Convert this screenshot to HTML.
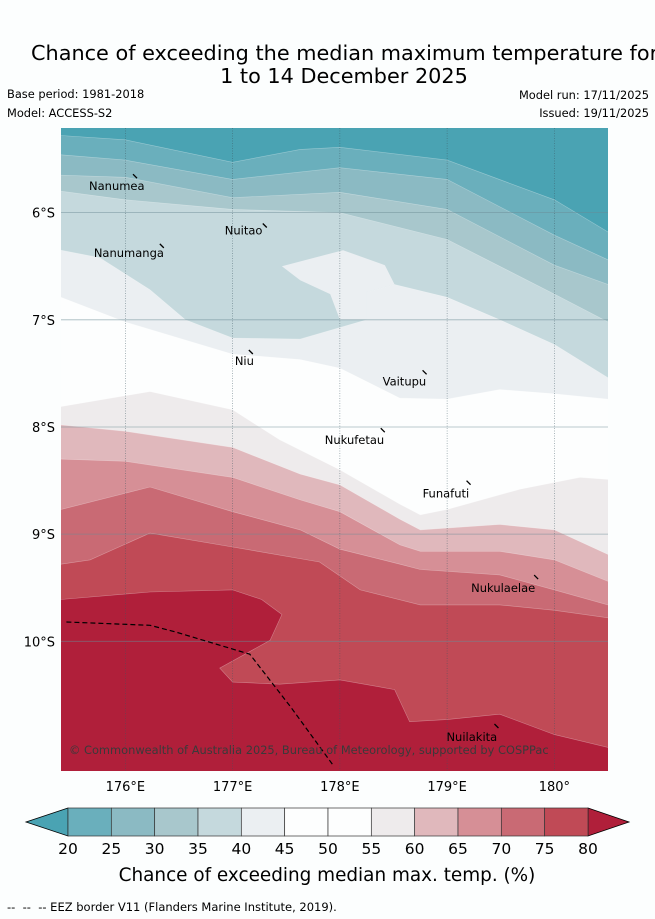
<!DOCTYPE html>
<html><head><meta charset="utf-8">
<style>
html,body{margin:0;padding:0;background:#fcfefe;}
svg{display:block;font-family:"DejaVu Sans","Liberation Sans",sans-serif;}
</style></head>
<body>
<svg id="chart" width="655" height="919" viewBox="0 0 655 919" xmlns="http://www.w3.org/2000/svg">
<rect width="655" height="919" fill="#fcfefe"/>
<text x="31" y="60" font-size="20.8" fill="#000">Chance of exceeding the median maximum temperature for</text>
<text x="344" y="83" font-size="20.8" fill="#000" text-anchor="middle">1 to 14 December 2025</text>
<text x="7" y="98" font-size="11.4">Base period: 1981-2018</text>
<text x="7" y="117" font-size="11.4">Model: ACCESS-S2</text>
<text x="649" y="99" font-size="11.4" text-anchor="end">Model run: 17/11/2025</text>
<text x="649" y="117" font-size="11.4" text-anchor="end">Issued: 19/11/2025</text>
<g id="map"></g>
<g id="cbar"></g>
<text x="327" y="881" font-size="18.4" text-anchor="middle">Chance of exceeding median max. temp. (%)</text>
<text x="7" y="911" font-size="11.5">-- &#160;-- &#160;-- EEZ border V11 (Flanders Marine Institute, 2019).</text>
</svg>
<script>
// ---- data ----
const lonTicks = [176, 177, 178, 179, 180];
const latTicks = [6, 7, 8, 9, 10];
const lonTickLabels = ["176°E", "177°E", "178°E", "179°E", "180°"];
const latTickLabels = ["6°S", "7°S", "8°S", "9°S", "10°S"];
const cbarLevels = [20, 25, 30, 35, 40, 45, 50, 55, 60, 65, 70, 75, 80];
const cbarColors = ["#6aafbc","#8bbac3","#a8c7cc","#c5d9dd","#ebeff2","#fdfefe","#fdfefe","#eeebec","#e0b8bc","#d68f96","#c96a74","#c04a56"];
const underColor = "#4aa3b3";
const overColor = "#b01f3a";
// contour boundaries: [lon, lat(°S)] ; band below each boundary gets bandColor
const boundaries = [
 {name:"contour-20", color:"#6aafbc", pts:[[175.40,5.28],[176.00,5.32],[177.00,5.53],[177.63,5.41],[178.00,5.39],[179.00,5.51],[180.00,5.88],[180.50,6.18]]},
 {name:"contour-25", color:"#8bbac3", pts:[[175.40,5.46],[176.00,5.51],[177.00,5.69],[178.00,5.58],[179.00,5.69],[180.00,6.21],[180.50,6.44]]},
 {name:"contour-30", color:"#a8c7cc", pts:[[175.40,5.65],[176.00,5.67],[177.00,5.86],[178.00,5.81],[179.00,5.97],[180.00,6.49],[180.50,6.67]]},
 {name:"contour-35", color:"#c5d9dd", pts:[[175.40,5.80],[176.00,5.88],[177.00,5.97],[178.00,6.00],[179.00,6.25],[180.00,6.76],[180.50,7.02]]},
 {name:"contour-40", color:"#ebeff2", pts:[[175.40,6.35],[175.76,6.42],[176.23,6.72],[176.56,7.00],[177.00,7.17],[177.63,7.18],[178.25,7.00],[178.25,6.74],[178.51,6.67],[179.00,6.79],[179.49,7.00],[180.00,7.23],[180.50,7.54]]},
 {name:"contour-45", color:"#fdfefe", pts:[[175.40,6.79],[176.00,7.02],[177.00,7.32],[177.63,7.37],[178.00,7.45],[178.56,7.73],[179.00,7.74],[179.49,7.65],[180.00,7.69],[180.50,7.74]]},
 {name:"contour-55", color:"#eeebec", pts:[[175.40,7.81],[176.23,7.67],[177.00,7.84],[177.44,8.12],[178.00,8.40],[178.56,8.72],[178.75,8.82],[179.00,8.77],[179.68,8.58],[180.24,8.47],[180.50,8.49]]},
 {name:"contour-60", color:"#e0b8bc", pts:[[175.40,7.98],[176.00,8.04],[177.00,8.19],[177.63,8.44],[178.00,8.54],[178.56,8.86],[178.75,8.96],[179.49,8.91],[180.00,8.96],[180.50,9.19]]},
 {name:"contour-65", color:"#d68f96", pts:[[175.40,8.30],[176.00,8.32],[177.00,8.47],[177.63,8.68],[178.00,8.79],[178.56,9.10],[178.75,9.16],[179.49,9.16],[180.00,9.24],[180.50,9.44]]},
 {name:"contour-70", color:"#c96a74", pts:[[175.40,8.77],[176.23,8.56],[177.00,8.79],[177.63,8.96],[178.00,9.14],[178.56,9.28],[178.75,9.33],[179.49,9.38],[180.00,9.52],[180.50,9.66]]},
 {name:"contour-75", color:"#c04a56", pts:[[175.40,9.28],[175.67,9.24],[176.23,8.99],[177.00,9.12],[177.81,9.26],[178.19,9.52],[178.75,9.66],[179.49,9.66],[180.00,9.71],[180.50,9.78]]},
 {name:"contour-80", color:"#b01f3a", pts:[[175.40,9.61],[176.23,9.54],[177.00,9.52],[177.27,9.61],[177.46,9.75],[177.35,9.99],[176.88,10.25],[177.00,10.38],[177.44,10.40],[178.00,10.36],[178.51,10.45],[178.65,10.75],[179.00,10.73],[179.49,10.68],[180.00,10.87],[180.50,10.99]]}
];
const bubble40 = [[177.46,6.50],[178.03,6.35],[178.42,6.49],[178.51,6.67],[178.25,6.74],[178.25,7.00],[178.00,7.00],[177.91,6.76],[177.63,6.63]];
const eezLine = [[175.45,9.82],[176.23,9.85],[176.46,9.91],[177.16,10.12],[177.54,10.61],[177.94,11.16]];
const islandNames = ["Nanumea","Nuitao","Nanumanga","Niu","Vaitupu","Nukufetau","Funafuti","Nukulaelae","Nuilakita"];
const islandLon = [176.09,177.30,176.34,177.17,178.79,178.40,179.20,179.83,179.46];
const islandLat = [5.66,6.12,6.31,7.30,7.49,8.03,8.52,9.40,10.79];
const labelDx = [-46,-40,-68,-16,-42,-58,-46,-65,-50];
const labelDy = [14,9,11,13,13,14,15,15,15];

// ---- axes ----
const X0=61, X1=608, Y0=128, Y1=771;
const lonMin=175.4, lonMax=180.5, latMin=5.21, latMax=11.21;
const xs = lon => X0 + (lon-lonMin)/(lonMax-lonMin)*(X1-X0);
const ys = lat => Y0 + (lat-latMin)/(latMax-latMin)*(Y1-Y0);
const NS="http://www.w3.org/2000/svg";
function mk(tag, attrs, parent){const e=document.createElementNS(NS,tag);for(const k in attrs)e.setAttribute(k,attrs[k]);parent.appendChild(e);return e;}
const map=document.getElementById('map');
mk('defs',{},map).innerHTML='<clipPath id="mclip"><rect x="61" y="128" width="547" height="643"/></clipPath>';
const g=mk('g',{'clip-path':'url(#mclip)'},map);
const bg=mk('rect',{x:X0,y:Y0,width:X1-X0,height:Y1-Y0,fill:underColor},g);


boundaries.forEach(b=>{
  let d='M'+b.pts.map(p=>xs(p[0]).toFixed(1)+','+ys(p[1]).toFixed(1)).join(' L');
  d+=` L${X1+5},${ys(b.pts[b.pts.length-1][1]).toFixed(1)} L${X1+5},${Y1+5} L${X0-5},${Y1+5} L${X0-5},${ys(b.pts[0][1]).toFixed(1)} Z`;
  const p=mk('path',{d:d,fill:b.color,stroke:'#ffffff','stroke-opacity':0.35,'stroke-width':0.6},g);
  
  
});
const bub=mk('path',{d:'M'+bubble40.map(p=>xs(p[0]).toFixed(1)+','+ys(p[1]).toFixed(1)).join(' L')+' Z',fill:'#ebeff2'},g);


// grid
lonTicks.forEach((lo,i)=>{
  const l=mk('line',{x1:xs(lo),x2:xs(lo),y1:Y0,y2:Y1,stroke:'#3a5560','stroke-width':0.6,'stroke-dasharray':'1,1.5','stroke-opacity':0.7},g);
  
  
  const t=mk('text',{x:xs(lo),y:Y1+20,'font-size':13,'text-anchor':'middle'},map);
  t.textContent=lonTickLabels[i];
  
  
});
latTicks.forEach((la,i)=>{
  const l=mk('line',{x1:X0,x2:X1,y1:ys(la),y2:ys(la),stroke:'#6a8a95','stroke-width':0.8,'stroke-opacity':0.6},g);
  
  
  const t=mk('text',{x:X0-6,y:ys(la)+5,'font-size':13,'text-anchor':'end'},map);
  t.textContent=latTickLabels[i];
  
  
});
// EEZ
const eez=mk('path',{d:'M'+eezLine.map(p=>xs(p[0]).toFixed(1)+','+ys(p[1]).toFixed(1)).join(' L'),fill:'none',stroke:'#000','stroke-width':1.2,'stroke-dasharray':'5,3'},g);


// islands
islandNames.forEach((n,i)=>{
  const x=xs(islandLon[i]), y=ys(islandLat[i]);
  const m=mk('path',{d:`M${x-2},${y-2} L${x+2},${y+2}`,stroke:'#000','stroke-width':1.3},g);
  
  
  const t=mk('text',{x:x+labelDx[i],y:y+labelDy[i],'font-size':11.5},g);
  t.textContent=n;
  
  
});
const cp=mk('text',{x:69,y:754,'font-size':11.4,fill:'#3a3a3a'},g);
cp.textContent='© Commonwealth of Australia 2025, Bureau of Meteorology, supported by COSPPac';


// colorbar
const cb=document.getElementById('cbar');
const CB0=68, CB1=588, CBY=808, CBH=28;
const cbx=v=>CB0+(v-cbarLevels[0])/(cbarLevels[cbarLevels.length-1]-cbarLevels[0])*(CB1-CB0);
const lt=mk('path',{d:`M${CB0},${CBY} L26,${CBY+CBH/2} L${CB0},${CBY+CBH} Z`,fill:underColor,stroke:'#000','stroke-width':0.8},cb);


const rt=mk('path',{d:`M${CB1},${CBY} L629,${CBY+CBH/2} L${CB1},${CBY+CBH} Z`,fill:overColor,stroke:'#000','stroke-width':0.8},cb);


cbarColors.forEach((c,i)=>{
  const r=mk('rect',{x:cbx(cbarLevels[i]),y:CBY,width:cbx(cbarLevels[i+1])-cbx(cbarLevels[i]),height:CBH,fill:c,stroke:'#333','stroke-width':0.7},cb);
  
  
});
cbarLevels.forEach(v=>{
  const t=mk('text',{x:cbx(v),y:CBY+CBH+18,'font-size':15.5,'text-anchor':'middle'},cb);
  t.textContent=v;
  
  
});
</script>
</body></html>
